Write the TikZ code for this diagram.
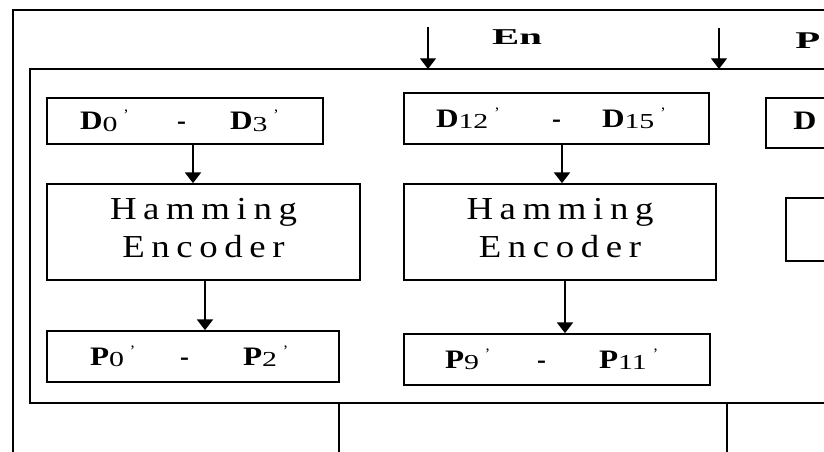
\documentclass[tikz,border=0pt]{standalone}
\usepackage{fontspec}
\setmainfont{Liberation Serif}
\usepackage{graphicx}
\usetikzlibrary{arrows.meta,calc}
\newfontfamily\spacedfont[LetterSpace=18]{Liberation Serif}
\newlength\px
\setlength\px{0.75pt}
\newcommand\wide[2][1.17]{\scalebox{#1}[1]{#2}}
% one signal name: letter, subscript, prime
\newcommand\sig[2]{\wide{\textbf{#1}}\raisebox{-1.5\px}{\fontsize{16}{16}\selectfont\wide[1.4]{#2}}\hspace{6\px}\raisebox{9\px}{\fontsize{12}{12}\selectfont ’}}
% range label inside a box: box width, left offset, width of first part, width of dash part, first, last
\newcommand\range[6]{\makebox[#1\px][l]{\hspace{#2\px}\makebox[#3\px][l]{#5}\makebox[#4\px][l]{\textbf{-}}#6}}
\begin{document}
\begin{tikzpicture}[x=0.75pt,y=-0.75pt,
  box/.style={draw,line width=1.3pt,inner sep=0pt,align=center},
  lbl/.style={font=\fontsize{20}{22}\selectfont},
  ham/.style={font=\spacedfont\fontsize{24}{28.5}\selectfont,text depth=6pt},
  arr/.style={line width=1.3pt,-{Triangle[width=12pt,length=8pt]}},
  thinarr/.style={line width=0.8pt,-{Triangle[width=12pt,length=8pt]}},
  wire/.style={line width=1.3pt}]
\useasboundingbox (0,0) rectangle (824,451);
\clip (0,0) rectangle (824,451);
% frames
\coordinate (outerNW) at (13,10);
\coordinate (outerSE) at (900,500);
\draw[wire] (outerNW) rectangle (outerSE);
\coordinate (innerNW) at (30,69);
\coordinate (innerSE) at (900,403);
\draw[wire] (innerNW) rectangle (innerSE);
% column 1
\node[box,lbl,minimum height=46*0.75pt] (D03) at (185,121)
  {\range{276}{33}{97}{53}{\sig{D}{0}}{\sig{D}{3}}};
\node[box,ham,minimum width=313*0.75pt,minimum height=96*0.75pt] (H1) at (203.5,232)
  {\wide[1.15]{Hamming}\\\wide[1.15]{Encoder}};
\node[box,lbl,minimum height=51*0.75pt] (P02) at (193,356.5)
  {\range{292}{43}{90}{63}{\sig{P}{0}}{\sig{P}{2}}};
% column 2
\node[box,lbl,minimum height=51*0.75pt] (D1215) at (556.5,118.5)
  {\range{305}{32}{116}{50}{\sig{D}{12}}{\sig{D}{15}}};
\node[box,ham,minimum width=312*0.75pt,minimum height=96*0.75pt] (H2) at (560,232)
  {\wide[1.15]{Hamming}\\\wide[1.15]{Encoder}};
\node[box,lbl,minimum height=51*0.75pt] (P911) at (557,359.5)
  {\range{306}{41}{92}{62}{\sig{P}{9}}{\sig{P}{11}}};
% column 3 (cut off)
\node[box,anchor=north west,minimum width=200*0.75pt,minimum height=50*0.75pt] (D3rd) at (765,97) {};
\node[lbl,anchor=west,inner sep=0pt] (D3rdtxt) at (793,121) {\wide[1.2]{\textbf{D}}};
\node[box,anchor=north west,minimum width=200*0.75pt,minimum height=63*0.75pt] (H3) at (785,197) {};
% inner arrows
\coordinate (x1) at (193,0);
\coordinate (x2) at (205,0);
\coordinate (x3) at (562,0);
\coordinate (x4) at (565,0);
\draw[arr] (D03.south -| x1) -- (H1.north -| x1);
\draw[arr] (H1.south -| x2) -- (P02.north -| x2);
\draw[arr] (D1215.south -| x3) -- (H2.north -| x3);
\draw[arr] (H2.south -| x4) -- (P911.north -| x4);
% top inputs
\coordinate (in1) at (428,27);
\coordinate (in2) at (719,28);
\draw[thinarr] (in1) -- (in1 |- innerNW);
\draw[thinarr] (in2) -- (in2 |- innerNW);
\node[font=\fontsize{17}{20}\selectfont] (en) at (517,37) {\wide[1.8]{\textbf{En}}};
\node[font=\fontsize{18}{20}\selectfont,anchor=west,inner sep=0pt] (p) at (795,41) {\wide[1.7]{\textbf{P}}};
% outputs
\coordinate (o1) at (339,470);
\coordinate (o2) at (727,470);
\draw[wire] (o1 |- innerSE) -- (o1);
\draw[wire] (o2 |- innerSE) -- (o2);
\end{tikzpicture}
\end{document}
